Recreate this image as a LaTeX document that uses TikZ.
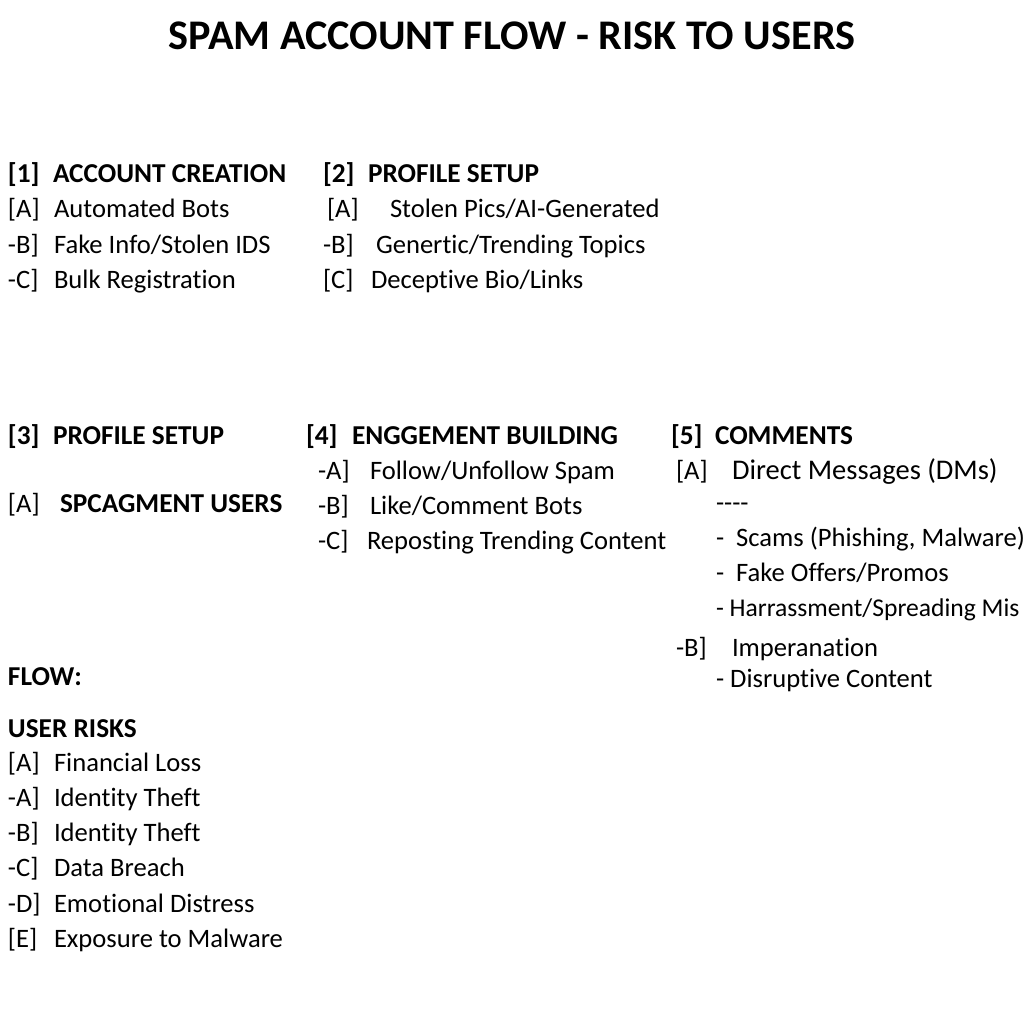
\documentclass[tikz,border=0pt]{standalone}
\usepackage{fontspec}
\setmainfont{Carlito}[Ligatures=CommonOff]
\begin{document}
\begin{tikzpicture}[x=1pt,y=-1pt,
  base/.style={anchor=base west, inner sep=0pt, outer sep=0pt},
  itm/.style={base, font=\fontsize{26.6}{30}\selectfont},
  big/.style={base, font=\fontsize{28.5}{32}\selectfont},
  narrow/.style={base, font=\fontsize{25.6}{29}\selectfont},
  hd/.style={base, font=\bfseries\fontsize{27.3}{30}\selectfont},
  ttl/.style={anchor=base, inner sep=0pt, font=\bfseries\fontsize{42.2}{46}\selectfont}]
\useasboundingbox[fill=white] (0,0) rectangle (1024,1024);
\node[ttl] (title) at (512,50) {SPAM ACCOUNT FLOW - RISK TO USERS};
% column 1, row 1
\node[hd] (h1n) at (8,183) {[1]};
\node[hd] (h1) at (53,183) {ACCOUNT CREATION};
\node[itm] (a1n) at (8,218) {[A]};
\node[itm] (a1) at (54,218) {Automated Bots};
\node[itm] (b1n) at (8,253) {-B]};
\node[itm] (b1) at (54,253) {Fake Info/Stolen IDS};
\node[itm] (c1n) at (8,288) {-C]};
\node[itm] (c1) at (54,288) {Bulk Registration};
% column 2, row 1
\node[hd] (h2n) at (323,183) {[2]};
\node[hd] (h2) at (368,183) {PROFILE SETUP};
\node[itm] (a2n) at (327,218) {[A]};
\node[itm] (a2) at (390,218) {Stolen Pics/AI-Generated};
\node[itm] (b2n) at (323,253) {-B]};
\node[itm] (b2) at (376,253) {Genertic/Trending Topics};
\node[itm] (c2n) at (323,288) {[C]};
\node[itm] (c2) at (371,288) {Deceptive Bio/Links};
% row 2, col 1
\node[hd] (h3n) at (8,444) {[3]};
\node[hd] (h3) at (53,444) {PROFILE SETUP};
\node[itm] (a3n) at (8,512) {[A]};
\node[hd] (a3) at (60,512) {SPCAGMENT USERS};
% row 2, col 2
\node[hd] (h4n) at (306,444) {[4]};
\node[hd] (h4) at (352,444) {ENGGEMENT BUILDING};
\node[itm] (a4n) at (318,479) {-A]};
\node[itm] (a4) at (370,479) {Follow/Unfollow Spam};
\node[itm] (b4n) at (318,514) {-B]};
\node[itm] (b4) at (370,514) {Like/Comment Bots};
\node[itm] (c4n) at (318,549) {-C]};
\node[itm] (c4) at (367,549) {Reposting Trending Content};
% row 2, col 3
\node[hd] (h5n) at (671,444) {[5]};
\node[hd] (h5) at (715,444) {COMMENTS};
\node[itm] (a5n) at (676,479) {[A]};
\node[big] (a5) at (732,479) {Direct Messages (DMs)};
\node[itm] (d5) at (716,511) {{-}{-}{-}{-}};
\node[itm] (s5) at (716,546) {-\ \ Scams (Phishing, Malware)};
\node[itm] (f5) at (716,581) {-\ \ Fake Offers/Promos};
\node[narrow] (r5) at (716,616) {- Harrassment/Spreading Mis};
\node[itm] (b5n) at (676,656) {-B]};
\node[itm] (b5) at (732,656) {Imperanation};
\node[itm] (p5) at (716,687) {- Disruptive Content};
% flow and risks
\node[hd] (flow) at (8,685) {FLOW:};
\node[hd] (risk) at (8,737) {USER RISKS};
\node[itm] (r1n) at (8,771) {[A]};
\node[itm] (r1) at (54,771) {Financial Loss};
\node[itm] (r2n) at (8,806) {-A]};
\node[itm] (r2) at (54,806) {Identity Theft};
\node[itm] (r3n) at (8,841) {-B]};
\node[itm] (r3) at (54,841) {Identity Theft};
\node[itm] (r4n) at (8,876) {-C]};
\node[itm] (r4) at (54,876) {Data Breach};
\node[itm] (r5n) at (8,912) {-D]};
\node[itm] (r5b) at (54,912) {Emotional Distress};
\node[itm] (r6n) at (8,947) {[E]};
\node[itm] (r6) at (54,947) {Exposure to Malware};
\end{tikzpicture}
\end{document}
